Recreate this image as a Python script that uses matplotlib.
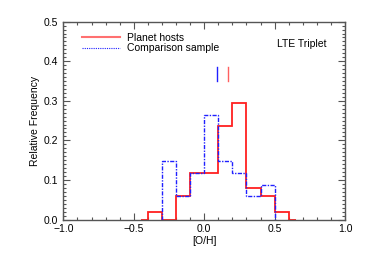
import numpy as np
import matplotlib
matplotlib.use("Agg")
import matplotlib.pyplot as plt
from matplotlib.lines import Line2D
from matplotlib.ticker import MultipleLocator

# bin edges in [O/H], width 0.1
HOST_EDGES = [-0.45, -0.4, -0.3, -0.2, -0.1, 0.0, 0.1, 0.2, 0.3, 0.4, 0.5, 0.6, 0.65]
HOST_COUNTS = [0, 1, 0, 3, 6, 6, 12, 15, 4, 3, 1, 0]          # N = 51

COMP_EDGES = [-0.3, -0.2, -0.1, 0.0, 0.1, 0.2, 0.3, 0.4, 0.5]
COMP_COUNTS = [5, 2, 4, 9, 5, 4, 2, 3]                        # N = 34

MEAN_HOSTS = 0.167
MEAN_COMP = 0.09
MEAN_MARK_Y = [0.35, 0.385]

plt.rcParams["font.family"] = ["Liberation Sans", "DejaVu Sans"]
plt.rcParams["font.size"] = 7.5

fig = plt.figure(figsize=(3.65, 2.61), dpi=100)
ax = fig.add_axes([0.1735, 0.159, 0.772, 0.758])

host_freq = np.array(HOST_COUNTS) / sum(HOST_COUNTS)
comp_freq = np.array(COMP_COUNTS) / sum(COMP_COUNTS)

ax.stairs(comp_freq, COMP_EDGES, baseline=0, color="#2020ff",
          linestyle=(0, (3, 1, 1, 1)), linewidth=1.0, zorder=3)
ax.stairs(host_freq, HOST_EDGES, baseline=None, color="#ff2020",
          linewidth=1.3, zorder=2)

# mean markers
ax.plot([MEAN_COMP, MEAN_COMP], MEAN_MARK_Y, color="#2020ff", linewidth=1.0)
ax.plot([MEAN_HOSTS, MEAN_HOSTS], MEAN_MARK_Y, color="#ff6060", linewidth=1.0)

ax.set_xlim(-1.0, 1.0)
ax.set_ylim(0.0, 0.5)
ax.xaxis.set_major_locator(MultipleLocator(0.5))
ax.xaxis.set_minor_locator(MultipleLocator(0.1))
ax.yaxis.set_major_locator(MultipleLocator(0.1))
ax.yaxis.set_minor_locator(MultipleLocator(0.01))
ax.tick_params(which="both", direction="in", top=True, right=True,
               color="#555555", width=0.8)
ax.tick_params(which="major", length=5)
ax.tick_params(which="minor", length=2.5)
for s in ax.spines.values():
    s.set_color("#555555")
    s.set_linewidth(1.0)

ax.xaxis.set_major_formatter(plt.FuncFormatter(lambda v, p: f"{v:.1f}".replace("-", "\u2212")))
ax.yaxis.set_major_formatter(plt.FuncFormatter(lambda v, p: f"{v:.1f}"))

ax.set_xlabel("[O/H]", labelpad=1)
ax.set_ylabel("Relative Frequency", labelpad=3)

handles = [
    Line2D([], [], color="#ff7070", linewidth=1.5),
    Line2D([], [], color="#2020ff", linestyle=(0, (1, 1)), linewidth=0.8),
]
ax.legend(handles, ["Planet hosts", "Comparison sample"], loc="upper left",
          frameon=False, handlelength=3.7, handletextpad=0.65,
          labelspacing=0.05, borderaxespad=0.4, bbox_to_anchor=(0.035, 0.985))
ax.text(0.935, 0.885, "LTE Triplet", transform=ax.transAxes, ha="right", va="center")

fig.savefig("out.png", dpi=100)
